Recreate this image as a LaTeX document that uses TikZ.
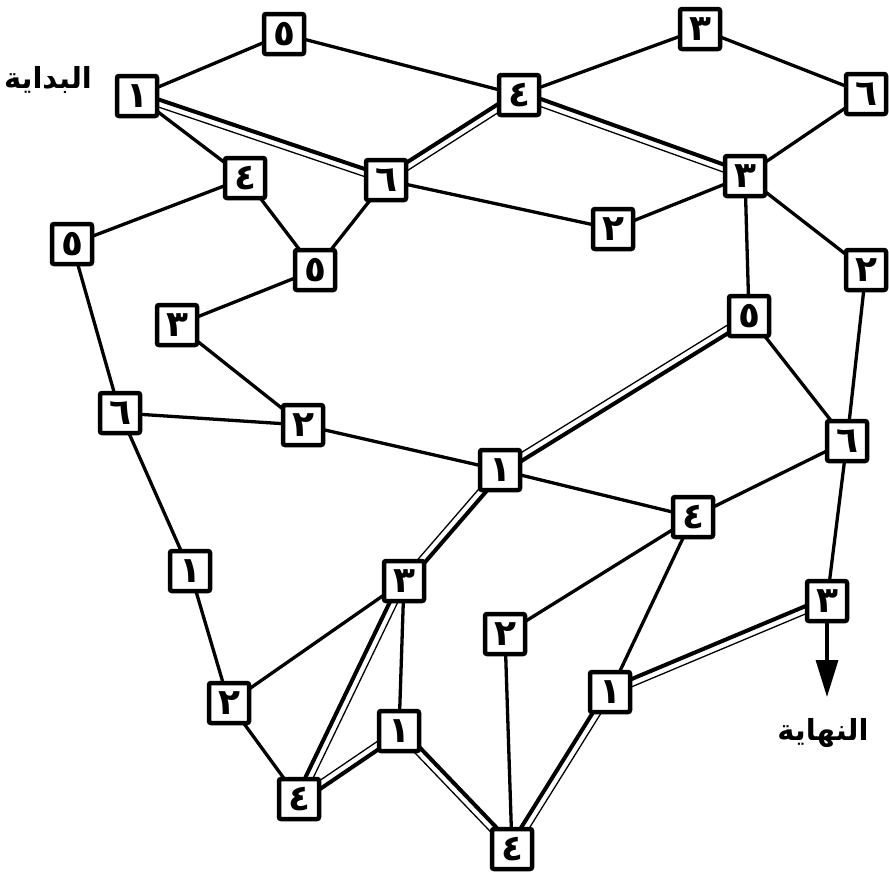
\documentclass[tikz,border=0pt]{standalone}
\usepackage{fontspec}
\newfontfamily\arabicfont[Script=Arabic]{DejaVu Sans}
\TeXXeTstate=1
\usetikzlibrary{calc,backgrounds,arrows.meta}
\newcommand\dbl[3]{%
  \draw[thk] ($(#1.center)!3.6pt!#3:(#2.center)$) -- ($(#2.center)!-3.6pt!#3:(#1.center)$);
  \draw[thn] ($(#1.center)!-3.6pt!#3:(#2.center)$) -- ($(#2.center)!3.6pt!#3:(#1.center)$);}
\begin{document}
\begin{tikzpicture}[x=1pt,y=-1pt,
  box/.style={draw,line width=4.5pt,fill=white,minimum size=40pt,inner sep=0pt,rounded corners=2pt,
    font=\arabicfont\bfseries\fontsize{36}{36}\selectfont},
  edge/.style={line width=3.3pt},
  thk/.style={line width=4pt},
  thn/.style={line width=1.3pt},
  lbl/.style={font=\arabicfont\bfseries\fontsize{29}{34}\selectfont}]
\useasboundingbox (0,0) rectangle (889,873);
\node[box] (s1) at (137,96) {١};
\node[box] (t5) at (284,34) {٥};
\node[box] (n4) at (245,178) {٤};
\node[box] (n6) at (386,180) {٦};
\node[box] (l5) at (72,244) {٥};
\node[box] (c5) at (315,270) {٥};
\node[box] (m4) at (519,95) {٤};
\node[box] (t3) at (700,29) {٣};
\node[box] (r6) at (866,94) {٦};
\node[box] (r3) at (745,176) {٣};
\node[box] (ra2) at (613,229) {٢};
\node[box] (rb2) at (866,270) {٢};
\node[box] (l3) at (177,325) {٣};
\node[box] (l6) at (120,413) {٦};
\node[box] (l2) at (303,425) {٢};
\node[box] (p5) at (749,316) {٥};
\node[box] (q6) at (847,441) {٦};
\node[box] (c1) at (500,470) {١};
\node[box] (d4) at (693,517) {٤};
\node[box] (l1) at (190,571) {١};
\node[box] (m3) at (404,581) {٣};
\node[box] (b2) at (505,634) {٢};
\node[box] (e3) at (827,601) {٣};
\node[box] (f1) at (610,692) {١};
\node[box] (g1) at (399,731) {١};
\node[box] (k2) at (229,703) {٢};
\node[box] (h4) at (299,799) {٤};
\node[box] (b4) at (512,849) {٤};
\node[lbl] (start) at (48,80) {\beginR البداية\endR};
\node[lbl] (end) at (823,733) {\beginR النهاية\endR};
\coordinate (tip) at (827,697);
\draw[edge,-{Triangle[length=37pt,width=22pt]}] (e3) -- (tip);
\begin{scope}[on background layer]
  \draw[edge] (s1.center) -- (t5.center);
  \draw[edge] (t5.center) -- (m4.center);
  \draw[edge] (s1.center) -- (n4.center);
  \dbl{s1}{n6}{90}
  \draw[edge] (n4.center) -- (l5.center);
  \draw[edge] (n4.center) -- (c5.center);
  \draw[edge] (n6.center) -- (c5.center);
  \dbl{n6}{m4}{90}
  \draw[edge] (n6.center) -- (ra2.center);
  \draw[edge] (m4.center) -- (t3.center);
  \dbl{m4}{r3}{90}
  \draw[edge] (t3.center) -- (r6.center);
  \draw[edge] (r6.center) -- (r3.center);
  \draw[edge] (ra2.center) -- (r3.center);
  \draw[edge] (r3.center) -- (p5.center);
  \draw[edge] (r3.center) -- (rb2.center);
  \draw[edge] (c5.center) -- (l3.center);
  \draw[edge] (l3.center) -- (l2.center);
  \draw[edge] (l5.center) -- (l6.center);
  \draw[edge] (l6.center) -- (l2.center);
  \draw[edge] (l2.center) -- (c1.center);
  \dbl{p5}{c1}{90}
  \draw[edge] (p5.center) -- (q6.center);
  \draw[edge] (rb2.center) -- (q6.center);
  \draw[edge] (c1.center) -- (d4.center);
  \draw[edge] (q6.center) -- (d4.center);
  \draw[edge] (q6.center) -- (e3.center);
  \draw[edge] (l6.center) -- (l1.center);
  \dbl{c1}{m3}{90}
  \draw[edge] (d4.center) -- (b2.center);
  \draw[edge] (d4.center) -- (f1.center);
  \draw[edge] (l1.center) -- (k2.center);
  \draw[edge] (m3.center) -- (k2.center);
  \dbl{m3}{h4}{-90}
  \draw[edge] (m3.center) -- (g1.center);
  \draw[edge] (k2.center) -- (h4.center);
  \dbl{h4}{g1}{-90}
  \dbl{g1}{b4}{90}
  \draw[edge] (b2.center) -- (b4.center);
  \dbl{b4}{f1}{90}
  \dbl{f1}{e3}{90}
\end{scope}
\end{tikzpicture}
\end{document}
